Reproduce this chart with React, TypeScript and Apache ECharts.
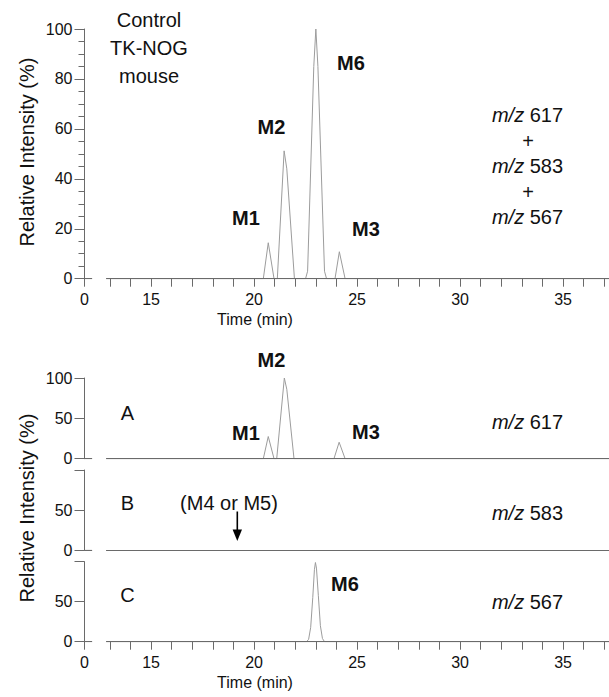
import React, { useEffect, useRef } from "react";
import * as echarts from "echarts";

// ---- axis layout values (minutes) ----
const X0 = 11.77; // position of the "0" origin before the axis break
const X_MAX = 37.23;
const STUB_END = 12.14; // short piece of x axis before the break
const AXIS_START = 12.82; // x axis resumes after the break

const xTickValues = [X0, 13, 14, 15, 16, 17, 18, 19, 20, 21, 22, 23, 24, 25, 26, 27, 28, 29, 30, 31, 32, 33, 34, 35, 36, 37];
const xLabelValues = [X0, 15, 20, 25, 30, 35];

// ---- top chart: m/z 617 + m/z 583 + m/z 567 ----
const topTime = [12.82, 20.45, 20.69, 20.97, 21.13, 21.46, 21.59, 21.96, 22.5, 22.6, 22.9, 23.0, 23.1, 23.42, 23.52, 23.93, 24.14, 24.42, 37.23];
const topIntensity = [0, 0, 14.4, 0, 0, 51.2, 44, 0, 0, 3, 85, 100, 85, 3, 0, 0, 10.8, 0, 0];

// ---- A: m/z 617 ----
const aTime = [12.82, 20.45, 20.69, 20.97, 21.1, 21.47, 21.59, 21.94, 23.88, 24.13, 24.42, 37.23];
const aIntensity = [0, 0, 27.5, 0, 0, 100, 86, 0, 0, 20.4, 0, 0];

// ---- B: m/z 583 ----
const bTime = [12.82, 37.23];
const bIntensity = [0, 0];

// ---- C: m/z 567 ----
const cTime = [12.82, 22.55, 22.65, 22.75, 22.85, 22.93, 22.98, 23.03, 23.12, 23.22, 23.32, 23.42, 37.23];
const cIntensity = [0, 0, 3, 18, 55, 90, 99, 92, 58, 20, 4, 0, 0];

const topYTicks = [0, 20, 40, 60, 80, 100];
const bottomYTicks = [0, 50, 100];

const FONT = "Liberation Sans, Arial, sans-serif";
const AXIS_COLOR = "#6a6a6a";
const TRACE_COLOR = "#9c9c9c";
const TEXT_COLOR = "#111";

const zip = (t: number[], v: number[]) => t.map((x, i) => [x, v[i]]);

export default function App() {
  const ref = useRef<HTMLDivElement>(null);

  useEffect(() => {
    if (!ref.current) return;
    const chart = echarts.init(ref.current, undefined, { renderer: "svg" });

    const grids = [
      { left: 84.5, right: 0, top: 29, height: 249.7 },
      { left: 84.5, right: 0, top: 378, height: 80.7 },
      { left: 84.5, right: 0, top: 470, height: 80.5 },
      { left: 84.5, right: 0, top: 561.7, height: 80 },
    ];

    const xAxisBase = (i: number, showTicks: boolean) => ({
      type: "value",
      gridIndex: i,
      min: X0,
      max: X_MAX,
      axisLine: { show: false },
      splitLine: { show: false },
      axisTick: {
        show: showTicks,
        customValues: xTickValues,
        length: 8,
        lineStyle: { color: AXIS_COLOR, width: 1 },
      },
      axisLabel: {
        show: showTicks,
        customValues: xLabelValues,
        margin: 13,
        fontSize: 16,
        fontFamily: FONT,
        color: TEXT_COLOR,
        formatter: (v: number) => (Math.abs(v - X0) < 1e-6 ? "0" : String(v)),
      },
    });

    const yAxisBase = (i: number, hideTop: boolean) => ({
      type: "value",
      gridIndex: i,
      min: 0,
      max: 100,
      interval: i === 0 ? topYTicks[1] - topYTicks[0] : bottomYTicks[1] - bottomYTicks[0],
      axisLine: { show: true, lineStyle: { color: AXIS_COLOR, width: 1 } },
      splitLine: { show: false },
      axisTick: { show: true, length: 10, lineStyle: { color: AXIS_COLOR, width: 1 } },
      minorTick: i === 0 ? { show: true, splitNumber: 4, length: 6, lineStyle: { color: AXIS_COLOR, width: 1 } } : { show: false },
      minorSplitLine: { show: false },
      axisLabel: {
        margin: 12,
        fontSize: 16,
        fontFamily: FONT,
        color: TEXT_COLOR,
        formatter: (v: number) => (hideTop && v === 100 ? "" : String(v)),
      },
    });

    const traces = [
      zip(topTime, topIntensity),
      zip(aTime, aIntensity),
      zip(bTime, bIntensity),
      zip(cTime, cIntensity),
    ];

    const series: any[] = [];
    traces.forEach((d, i) => {
      series.push({
        type: "line",
        xAxisIndex: i,
        yAxisIndex: i,
        data: d,
        symbol: "none",
        lineStyle: { color: TRACE_COLOR, width: 1 },
        z: 2,
      });
      series.push({
        type: "line",
        xAxisIndex: i,
        yAxisIndex: i,
        data: [[AXIS_START, 0], [X_MAX, 0]],
        symbol: "none",
        lineStyle: { color: AXIS_COLOR, width: 1.2 },
        z: 3,
      });
      series.push({
        type: "line",
        xAxisIndex: i,
        yAxisIndex: i,
        data: [[X0, 0], [STUB_END, 0]],
        symbol: "none",
        lineStyle: { color: AXIS_COLOR, width: 1.2 },
        z: 3,
      });
    });

    const txt = (text: string, x: number, y: number, size = 20, bold = false, extra: any = {}) => ({
      type: "text",
      x,
      y,
      ...extra,
      style: {
        text,
        fontSize: size,
        fontWeight: bold ? "bold" : "normal",
        fontFamily: FONT,
        fill: TEXT_COLOR,
        align: "center",
        verticalAlign: "middle",
        ...(extra.style || {}),
      },
    });

    const mz = (num: string, x: number, y: number) => ({
      type: "text",
      x,
      y,
      style: {
        text: "{i|m/z} " + num,
        fontSize: 20,
        fontFamily: FONT,
        fill: TEXT_COLOR,
        align: "center",
        verticalAlign: "middle",
        rich: {
          i: { fontStyle: "italic", fontSize: 20, fontFamily: FONT, fill: TEXT_COLOR },
        },
      },
    });

    const graphic: any[] = [
      // y axis names
      { type: "text", x: 27, y: 152, rotation: Math.PI / 2, style: { text: "Relative Intensity (%)", fontSize: 20, fontFamily: FONT, fill: TEXT_COLOR, align: "center", verticalAlign: "middle" } },
      { type: "text", x: 27, y: 508, rotation: Math.PI / 2, style: { text: "Relative Intensity (%)", fontSize: 20, fontFamily: FONT, fill: TEXT_COLOR, align: "center", verticalAlign: "middle" } },
      // x axis names
      txt("Time (min)", 255, 319, 16),
      txt("Time (min)", 255, 682, 16),
      // top annotations
      txt("Control", 149, 20),
      txt("TK-NOG", 149, 48),
      txt("mouse", 149, 76),
      txt("M1", 246, 218, 20, true),
      txt("M2", 271.5, 127, 20, true),
      txt("M6", 351, 63, 20, true),
      txt("M3", 366, 229, 20, true),
      mz("617", 527.5, 115),
      txt("+", 528, 141),
      mz("583", 527.5, 166),
      txt("+", 528, 192),
      mz("567", 527.5, 217),
      // bottom annotations
      txt("A", 127.5, 413),
      txt("B", 127.5, 503),
      txt("C", 127.5, 595),
      txt("M1", 246, 433, 20, true),
      txt("M2", 271.5, 360, 20, true),
      txt("M3", 366, 431.5, 20, true),
      txt("M6", 345, 583.5, 20, true),
      txt("(M4 or M5)", 229, 503),
      mz("617", 527.5, 421.5),
      mz("583", 527.5, 512.5),
      mz("567", 527.5, 601.5),
      // arrow
      { type: "line", shape: { x1: 237.3, y1: 511.5, x2: 237.3, y2: 532 }, style: { stroke: "#000", lineWidth: 1.6 } },
      { type: "polygon", shape: { points: [[232.6, 529.5], [242, 529.5], [237.3, 541]] }, style: { fill: "#000" } },
    ];

    chart.setOption({
      animation: false,
      backgroundColor: "#fff",
      grid: grids,
      xAxis: [xAxisBase(0, true), xAxisBase(1, false), xAxisBase(2, false), xAxisBase(3, true)],
      yAxis: [yAxisBase(0, false), yAxisBase(1, false), yAxisBase(2, true), yAxisBase(3, true)],
      series,
      graphic,
    });

    return () => chart.dispose();
  }, []);

  return <div ref={ref} style={{ position: "absolute", left: 0, top: 0, width: 609, height: 697, background: "#fff" }} />;
}
